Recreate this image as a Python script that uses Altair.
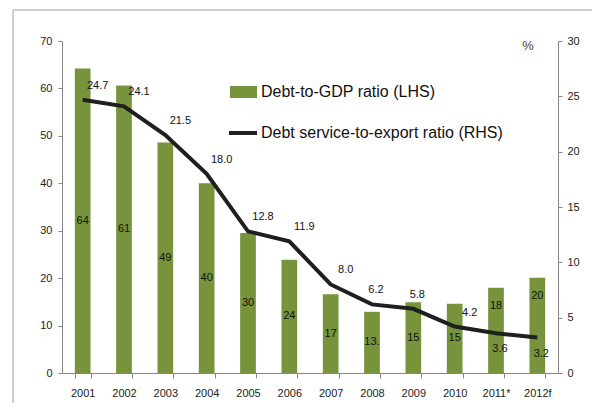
import altair as alt
import pandas as pd

years = ["2001", "2002", "2003", "2004", "2005", "2006", "2007", "2008", "2009", "2010", "2011*", "2012f"]
debt_gdp = [64.2, 60.6, 48.6, 40.0, 29.5, 23.9, 16.6, 12.9, 14.9, 14.6, 18.0, 20.1]
gdp_labels = ["64", "61", "49", "40", "30", "24", "17", "13.", "15", "15", "18", "20"]
debt_service = [24.7, 24.1, 21.5, 18.0, 12.8, 11.9, 8.0, 6.2, 5.8, 4.2, 3.6, 3.2]
svc_labels = ["24.7", "24.1", "21.5", "18.0", "12.8", "11.9", "8.0", "6.2", "5.8", "4.2", "3.6", "3.2"]

legend_bar = "Debt-to-GDP ratio (LHS)"
legend_line = "Debt service-to-export ratio (RHS)"

df = pd.DataFrame({
    "year": years,
    "gdp": debt_gdp,
    "gdp_label": gdp_labels,
    "svc": debt_service,
    "svc_label": svc_labels,
})

FONT = "Liberation Sans"
AX = "#868686"
GREEN = "#77933C"

xenc = alt.X(
    "year:N", sort=years, title=None,
    scale=alt.Scale(paddingInner=0.62, paddingOuter=0.31),
    axis=alt.Axis(labelAngle=0, tickBand="extent", tickSize=5, labelPadding=9,
                  domainColor=AX, tickColor=AX, labelColor="#222", labelFont=FONT,
                  labelFontSize=11),
)
yl_scale = alt.Scale(domain=[0, 70])
yr_scale = alt.Scale(domain=[0, 30])
left_axis = alt.Axis(orient="left", values=[0, 10, 20, 30, 40, 50, 60, 70], grid=False, tickSize=4,
                     labelPadding=6, domainColor=AX, tickColor=AX, labelColor="#222",
                     labelFont=FONT, labelFontSize=11, title=None)
right_axis = alt.Axis(orient="right", values=[0, 5, 10, 15, 20, 25, 30], grid=False,
                      tickSize=4, labelPadding=5, domainColor=AX, tickColor=AX,
                      labelColor="#222", labelFont=FONT, labelFontSize=11, title=None)

base = alt.Chart(df)

bars = base.mark_bar(color=GREEN).encode(
    x=xenc,
    y=alt.Y("gdp:Q", scale=yl_scale, axis=left_axis, title=None),
)
last_two = "datum.year == '2011*' || datum.year == '2012f'"
bar_text_mid = base.transform_filter("!(" + last_two + ")").transform_calculate(
    mid="datum.gdp / 2").mark_text(font=FONT, fontSize=11, color="#111").encode(
    x=xenc, y=alt.Y("mid:Q", scale=yl_scale, axis=left_axis, title=None), text="gdp_label:N")
bar_text_top = base.transform_filter(last_two).mark_text(
    font=FONT, fontSize=11, color="#111", dy=18).encode(
    x=xenc, y=alt.Y("gdp:Q", scale=yl_scale, axis=left_axis, title=None), text="gdp_label:N")

left = alt.layer(bars, bar_text_mid, bar_text_top)

line = base.mark_line(color="#1f1f1f", strokeWidth=4).encode(
    x=xenc,
    y=alt.Y("svc:Q", scale=yr_scale, axis=right_axis, title=None),
)
grp_a = "indexof(['2008','2009','2011*','2012f'], datum.year) < 0"
grp_b = "datum.year == '2008' || datum.year == '2009'"
lt_a = base.transform_filter(grp_a).mark_text(font=FONT, fontSize=11, color="#111", dx=15, dy=-14).encode(
    x=xenc, y=alt.Y("svc:Q", scale=yr_scale, axis=right_axis, title=None), text="svc_label:N")
lt_b = base.transform_filter(grp_b).mark_text(font=FONT, fontSize=11, color="#111", dx=4, dy=-14).encode(
    x=xenc, y=alt.Y("svc:Q", scale=yr_scale, axis=right_axis, title=None), text="svc_label:N")
lt_c = base.transform_filter(last_two).mark_text(font=FONT, fontSize=11, color="#111", dx=4, dy=16).encode(
    x=xenc, y=alt.Y("svc:Q", scale=yr_scale, axis=right_axis, title=None), text="svc_label:N")

right = alt.layer(line, lt_a, lt_b, lt_c)

leg_df = pd.DataFrame({"bar": [legend_bar], "line": [legend_line], "pct": ["%"]})
lb = alt.Chart(leg_df)
leg_rect = lb.mark_rect(color=GREEN).encode(
    x=alt.value(168), x2=alt.value(195), y=alt.value(45), y2=alt.value(57))
leg_rule = lb.mark_rule(color="#1f1f1f", strokeWidth=4).encode(
    x=alt.value(167), x2=alt.value(195), y=alt.value(92))
leg_t1 = lb.mark_text(align="left", baseline="middle", font=FONT, fontSize=16, color="#111").encode(
    x=alt.value(199), y=alt.value(51), text="bar:N")
leg_t2 = lb.mark_text(align="left", baseline="middle", font=FONT, fontSize=16, color="#111").encode(
    x=alt.value(199), y=alt.value(92), text="line:N")
pct = lb.mark_text(align="center", baseline="middle", font=FONT, fontSize=13, color="#444").encode(
    x=alt.value(466), y=alt.value(5), text="pct:N")
border_top = lb.mark_rule(color="#a0a0a0", strokeWidth=1).encode(
    x=alt.value(-49), x2=alt.value(540), y=alt.value(-31))
border_left = lb.mark_rule(color="#a0a0a0", strokeWidth=1).encode(
    x=alt.value(-49), y=alt.value(-31), y2=alt.value(370))

chart = alt.layer(
    left, right, leg_rect, leg_rule, leg_t1, leg_t2, pct, border_top, border_left
).resolve_scale(y="independent").properties(
    width=496, height=332,
    autosize=alt.AutoSizeParams(type="none"),
    padding={"left": 62, "top": 41, "right": 34, "bottom": 30},
    background="white",
).configure_view(stroke=None)

chart.save("out.html", embed_options={"renderer": "svg", "actions": False})
